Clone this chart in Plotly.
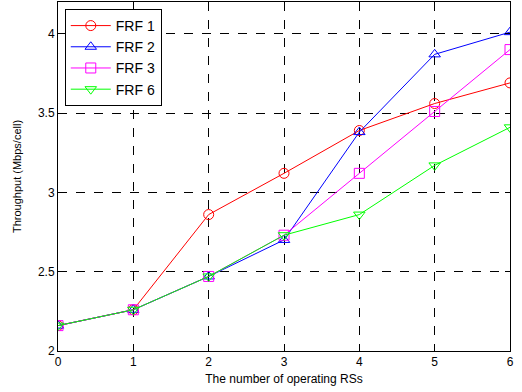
import plotly.graph_objects as go

x_rs = [0, 1, 2, 3, 4, 5, 6]
frf1 = [2.16, 2.26, 2.86, 3.12, 3.39, 3.56, 3.69]
frf2 = [2.16, 2.26, 2.47, 2.70, 3.38, 3.87, 4.01]
frf3 = [2.16, 2.26, 2.47, 2.73, 3.12, 3.51, 3.90]
frf6 = [2.16, 2.26, 2.47, 2.73, 2.86, 3.17, 3.41]

series = [
    ("FRF 1", frf1, "#ff0000", "circle-open"),
    ("FRF 2", frf2, "#0000ff", "triangle-up-open"),
    ("FRF 3", frf3, "#ff00ff", "square-open"),
    ("FRF 6", frf6, "#00ff00", "triangle-down-open"),
]

fig = go.Figure()
for name, ys, col, sym in series:
    fig.add_trace(go.Scatter(
        x=x_rs, y=ys, name=name, mode="lines+markers",
        line=dict(color=col, width=1),
        marker=dict(symbol=sym, size=10, color=col, line=dict(width=1, color=col)),
    ))

axis_common = dict(
    showgrid=True, gridcolor="black", griddash="dash", gridwidth=1,
    showline=True, linecolor="black", linewidth=1, mirror="ticks",
    ticks="inside", ticklen=5, tickcolor="black",
    zeroline=False,
    tickfont=dict(family="Liberation Sans, Arial", size=12, color="black"),
)

fig.update_xaxes(range=[0, 6], tickvals=[0, 1, 2, 3, 4, 5, 6],
                 title=dict(text="The number of operating RSs", standoff=6,
                            font=dict(family="Liberation Sans, Arial", size=12, color="black")),
                 **axis_common)
fig.update_yaxes(range=[2, 4.2], tickvals=[2, 2.5, 3, 3.5, 4],
                 ticktext=["2", "2.5", "3", "3.5", "4"],
                 title=dict(text="Throughput (Mbps/cell)", standoff=14,
                            font=dict(family="Liberation Sans, Arial", size=11, color="black")),
                 **axis_common)

fig.update_layout(
    width=522, height=392,
    margin=dict(l=58, r=12, t=2, b=41, autoexpand=False),
    plot_bgcolor="white", paper_bgcolor="white",
    font=dict(family="Liberation Sans, Arial", color="black"),
    legend=dict(x=0.015, y=0.98, xanchor="left", yanchor="top",
                bordercolor="black", borderwidth=1, bgcolor="white",
                itemwidth=40,
                font=dict(size=14, color="black"), tracegroupgap=0),
)

fig.write_html("out.html", config={"displayModeBar": False},
               post_script="document.body.style.margin='0';")
